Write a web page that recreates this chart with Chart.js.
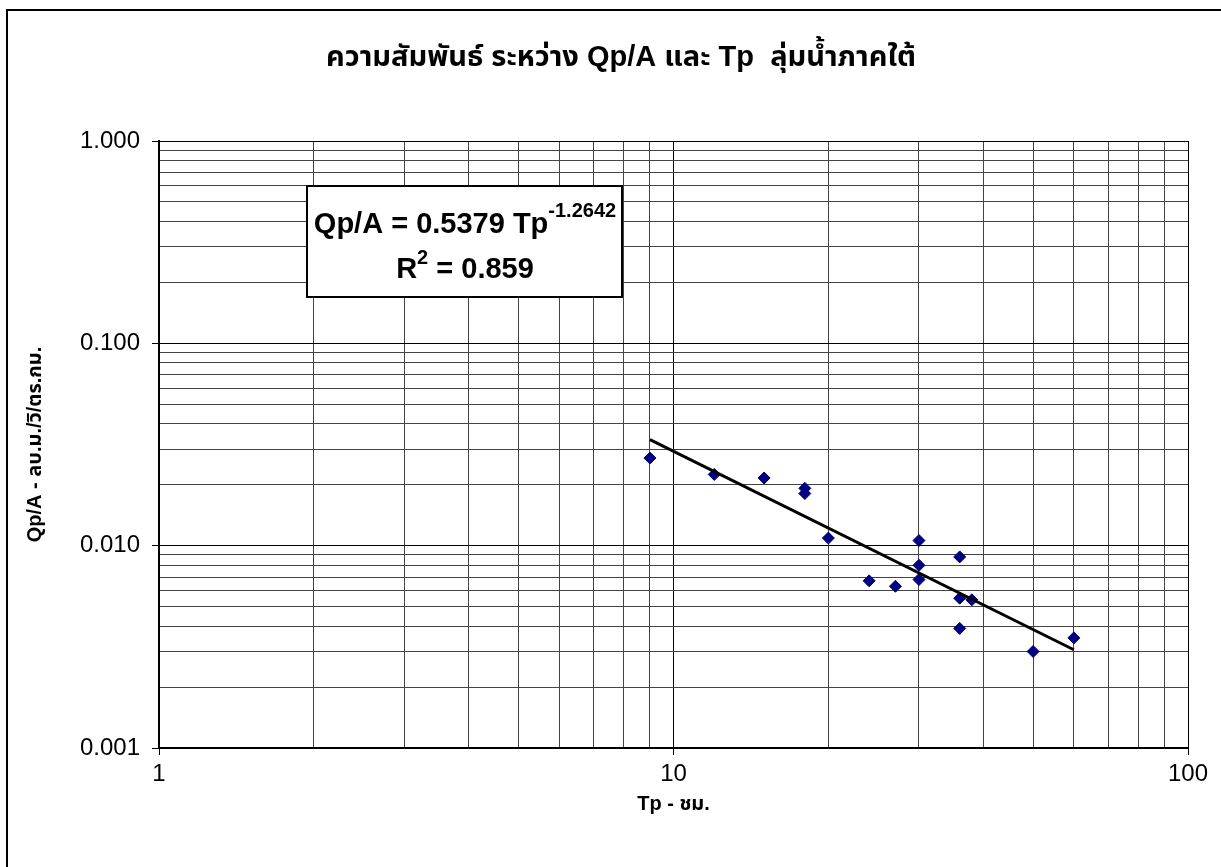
<!DOCTYPE html>
<html>
<head>
<meta charset="utf-8">
<script src="https://cdn.jsdelivr.net/npm/chart.js@4.4.1/dist/chart.umd.min.js"></script>
<style>
  body { margin: 0; background: #fff; }
  #wrap { width: 1221px; height: 867px; }
</style>
</head>
<body>
<div id="wrap"><canvas id="chart" width="1221" height="867"></canvas></div>
<script>
/* ---- chart data ---- */
const chartTitle = "ความสัมพันธ์ ระหว่าง Qp/A และ Tp  ลุ่มน้ำภาคใต้";
const xAxisTitle = "Tp - ชม.";
const yAxisTitle = "Qp/A - ลบ.ม./วิ/ตร.กม.";

const tp  = [9, 12, 15, 18, 18, 20, 24, 27, 30, 30, 30, 36, 36, 38, 36, 50, 60];
const qpa = [0.0271, 0.0225, 0.0216, 0.0192, 0.0181, 0.0109, 0.0067, 0.0063,
             0.0106, 0.0080, 0.0068, 0.0088, 0.0055, 0.0054, 0.0039, 0.0030, 0.0035];

// power trendline, end points
const trendTp  = [9, 60];
const trendQpa = [0.0334, 0.00306];

const xMajorTicks = [1, 10, 100];
const xTickLabels = ["1", "10", "100"];
const yMajorTicks = [0.001, 0.01, 0.1, 1];
const yTickLabels = ["0.001", "0.010", "0.100", "1.000"];

const eqLine1 = "Qp/A = 0.5379 Tp";
const eqExp = "-1.2642";
const eqLine2 = "R";
const eqLine2Sup = "2";
const eqLine2Rest = " = 0.859";

/* ---- helpers ---- */
const FONT = 'Arial, "Liberation Sans", "Noto Sans Thai", "Noto Sans", "DejaVu Sans", sans-serif';

function logTicks(min, max) {
    const out = [];
    const e0 = Math.round(Math.log10(min));
    const e1 = Math.round(Math.log10(max));
    for (let e = e0; e < e1; e++) {
        for (let m = 1; m < 10; m++) {
            out.push({ value: Number((m * Math.pow(10, e)).toPrecision(6)) });
        }
    }
    out.push({ value: max });
    return out;
}

function majorIndex(value, majors) {
    return majors.findIndex(m => Math.abs(Math.log10(value) - Math.log10(m)) < 1e-6);
}

/* ---- plugins: frame, title, equation box ---- */
const decorPlugin = {
    id: "decor",
    beforeDraw(chart) {
        const ctx = chart.ctx;
        ctx.save();
        ctx.fillStyle = "#fff";
        ctx.fillRect(0, 0, chart.width, chart.height);
        ctx.strokeStyle = "#000";
        ctx.lineWidth = 2;
        ctx.strokeRect(7, 10, 1400, 1000);
        ctx.fillStyle = "#000";
        ctx.font = "bold 29px " + FONT;
        ctx.textAlign = "center";
        ctx.textBaseline = "alphabetic";
        ctx.fillText(chartTitle, 621, 66);
        ctx.restore();
    },
    afterDraw(chart) {
        const ctx = chart.ctx;
        ctx.save();
        // equation box
        ctx.fillStyle = "#fff";
        ctx.fillRect(307, 186, 315, 111);
        ctx.strokeStyle = "#000";
        ctx.lineWidth = 2;
        ctx.strokeRect(307, 186, 315, 111);

        ctx.fillStyle = "#000";
        ctx.textBaseline = "alphabetic";
        ctx.textAlign = "left";

        ctx.font = "bold 29px " + FONT;
        const w1 = ctx.measureText(eqLine1).width;
        ctx.font = "bold 20px " + FONT;
        const w1s = ctx.measureText(eqExp).width;
        let x = 465 - (w1 + w1s) / 2;
        ctx.font = "bold 29px " + FONT;
        ctx.fillText(eqLine1, x, 233);
        ctx.font = "bold 20px " + FONT;
        ctx.fillText(eqExp, x + w1, 217);

        ctx.font = "bold 29px " + FONT;
        const wr = ctx.measureText(eqLine2).width;
        const wrest = ctx.measureText(eqLine2Rest).width;
        ctx.font = "bold 20px " + FONT;
        const ws = ctx.measureText(eqLine2Sup).width;
        x = 465 - (wr + ws + wrest) / 2;
        ctx.font = "bold 29px " + FONT;
        ctx.fillText(eqLine2, x, 278);
        ctx.fillText(eqLine2Rest, x + wr + ws, 278);
        ctx.font = "bold 20px " + FONT;
        ctx.fillText(eqLine2Sup, x + wr, 264);
        ctx.restore();
    }
};

/* ---- chart ---- */
const ctx = document.getElementById("chart").getContext("2d");

new Chart(ctx, {
    data: {
        datasets: [
            {
                type: "line",
                label: "Power trend",
                data: trendTp.map((t, i) => ({ x: t, y: trendQpa[i] })),
                borderColor: "#000",
                borderWidth: 3,
                pointRadius: 0,
                tension: 0,
                order: 0
            },
            {
                type: "scatter",
                label: "Qp/A",
                data: tp.map((t, i) => ({ x: t, y: qpa[i] })),
                pointStyle: "rectRot",
                pointRadius: 6,
                backgroundColor: "#000080",
                borderColor: "#000080",
                borderWidth: 1,
                order: 1
            }
        ]
    },
    options: {
        responsive: false,
        animation: false,
        layout: { padding: { top: 141, right: 33, bottom: 0, left: 0 } },
        plugins: {
            legend: { display: false },
            tooltip: { enabled: false },
            title: { display: false }
        },
        scales: {
            x: {
                type: "logarithmic",
                position: "bottom",
                min: 1,
                max: 100,
                afterBuildTicks: s => { s.ticks = logTicks(1, 100); },
                afterFit: s => { s.height = 119; },
                ticks: {
                    autoSkip: false,
                    maxRotation: 0,
                    padding: 5,
                    color: "#000",
                    font: { size: 24, family: FONT },
                    callback: v => {
                        const i = majorIndex(v, xMajorTicks);
                        return i >= 0 ? xTickLabels[i] : "";
                    }
                },
                grid: {
                    color: c => majorIndex(c.tick.value, xMajorTicks) >= 0 ? "#000" : "#444",
                    tickColor: c => majorIndex(c.tick.value, xMajorTicks) >= 0 ? "#000" : "rgba(0,0,0,0)",
                    tickLength: 7,
                    lineWidth: 1
                },
                border: { color: "#000", width: 2 },
                title: {
                    display: true,
                    text: xAxisTitle,
                    color: "#000",
                    font: { size: 20, weight: "bold", family: FONT },
                    padding: { top: 0, bottom: 51 }
                }
            },
            y: {
                type: "logarithmic",
                min: 0.001,
                max: 1,
                afterBuildTicks: s => { s.ticks = logTicks(0.001, 1); },
                afterFit: s => { s.width = 159; },
                ticks: {
                    autoSkip: false,
                    padding: 12,
                    color: "#000",
                    font: { size: 24, family: FONT },
                    callback: v => {
                        const i = majorIndex(v, yMajorTicks);
                        return i >= 0 ? yTickLabels[i] : "";
                    }
                },
                grid: {
                    color: c => majorIndex(c.tick.value, yMajorTicks) >= 0 ? "#000" : "#444",
                    tickColor: c => majorIndex(c.tick.value, yMajorTicks) >= 0 ? "#000" : "rgba(0,0,0,0)",
                    tickLength: 7,
                    lineWidth: 1
                },
                border: { color: "#000", width: 2 },
                title: {
                    display: true,
                    text: yAxisTitle,
                    color: "#000",
                    font: { size: 20, weight: "bold", family: FONT },
                    padding: { top: 23, bottom: 0 }
                }
            }
        }
    },
    plugins: [decorPlugin]
});
</script>
</body>
</html>
